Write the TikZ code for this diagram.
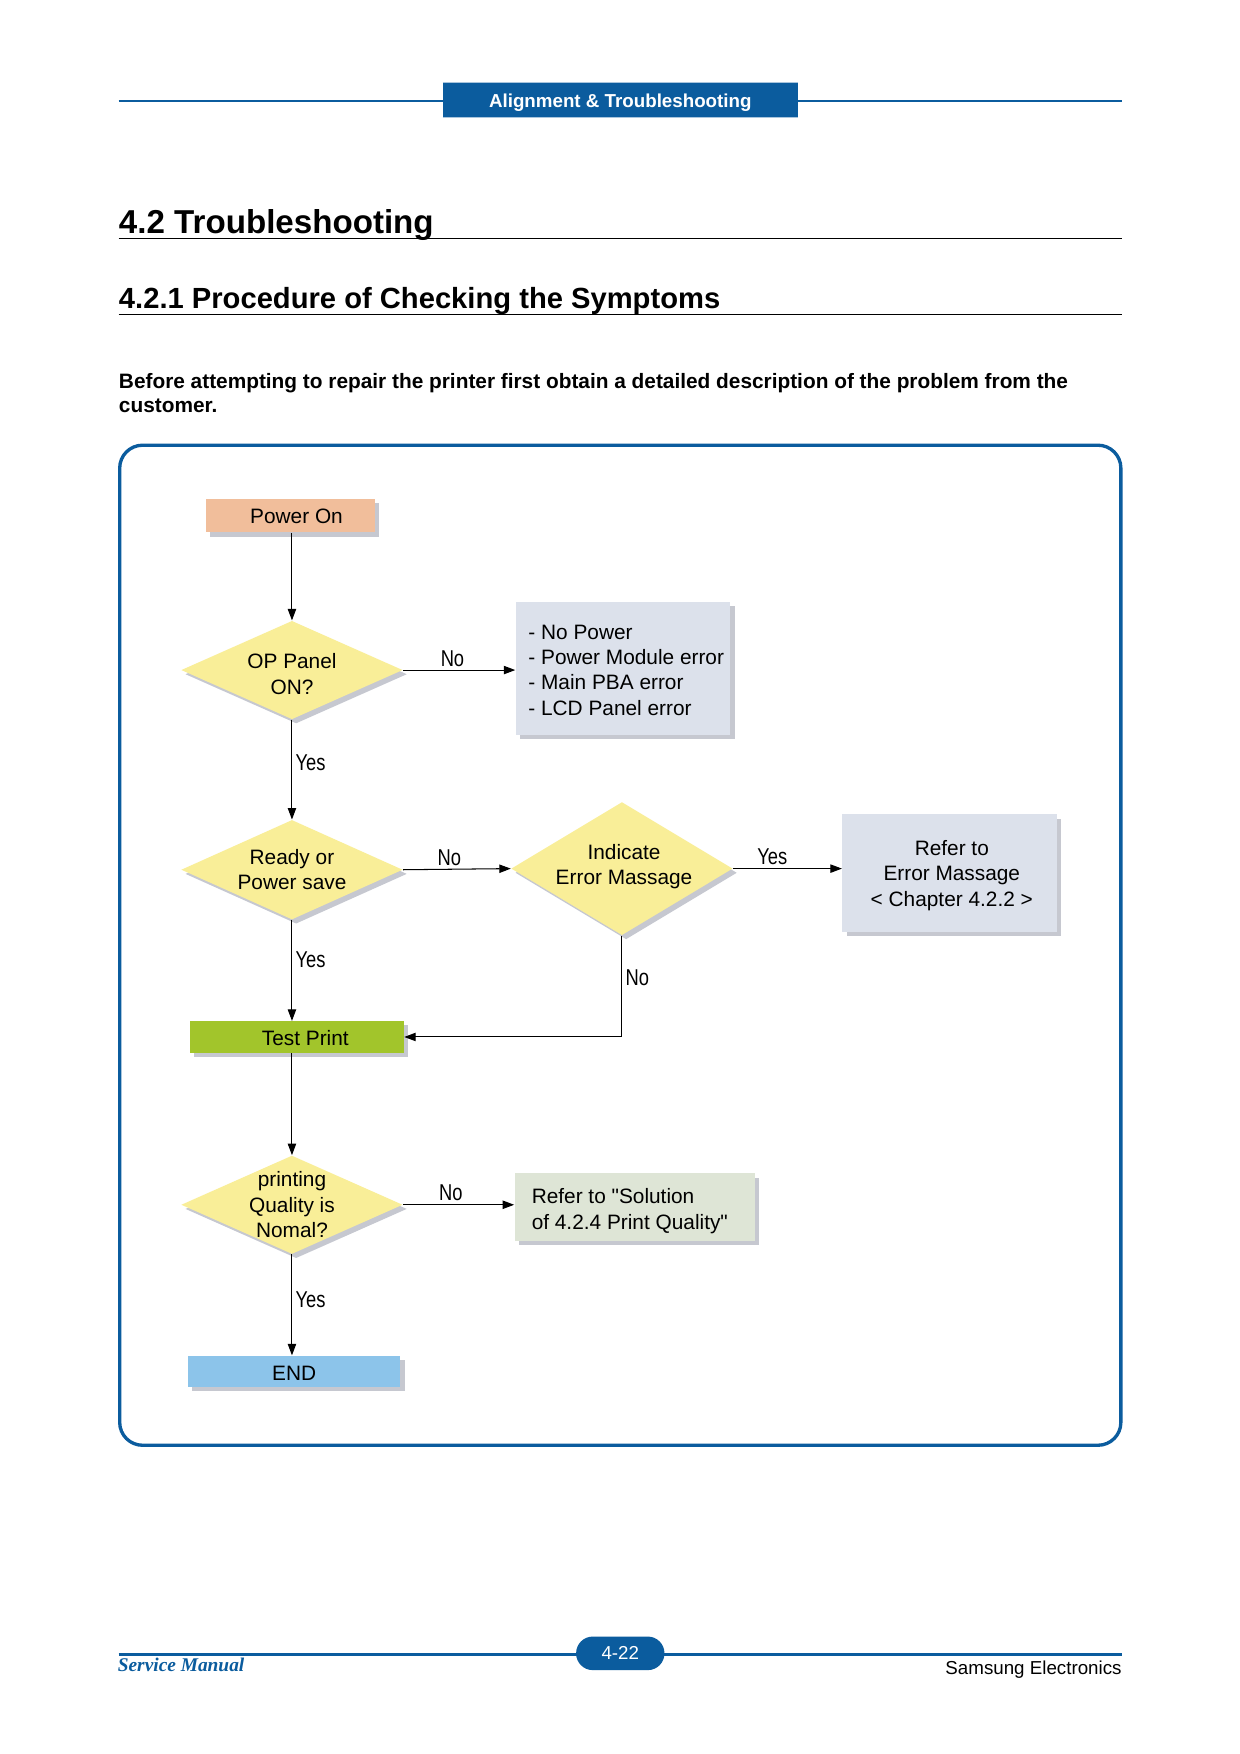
\documentclass[tikz,border=0pt]{standalone}
\usepackage{fontspec}
\setmainfont{Liberation Sans}[Ligatures=TeXOff]
\newfontfamily\narrowfont{Liberation Sans}[FakeStretch=0.8]
\newfontfamily\serifbi{Liberation Serif}
\usetikzlibrary{arrows.meta,shapes.geometric,shadows}
\definecolor{hdrblue}{HTML}{0B5C9E}
\definecolor{hdredge}{HTML}{A9C5DD}
\definecolor{salmon}{HTML}{F1BE9B}
\definecolor{yel}{HTML}{F9EE98}
\definecolor{bluegray}{HTML}{DCE1EB}
\definecolor{greenbox}{HTML}{A2C52B}
\definecolor{endblue}{HTML}{8CC4EA}
\definecolor{greengray}{HTML}{DEE5D6}
\definecolor{shadowgray}{HTML}{C6C8D0}
\begin{document}
\begin{tikzpicture}[x=0.537pt,y=-0.537pt,
  shd/.style={drop shadow={shadow xshift=2pt,shadow yshift=-2pt,fill=shadowgray,opacity=1}},
  boxnode/.style={rectangle,draw=none,inner sep=0pt,shd},
  dia/.style={diamond,draw=none,fill=yel,inner sep=0pt,shd},
  txt/.style={align=center,inner sep=0pt,font=\fontsize{10pt}{12.2pt}\selectfont},
  lbl/.style={inner sep=1.5pt,font=\narrowfont\fontsize{11pt}{13pt}\selectfont},
  arr/.style={-{Triangle[length=5.5pt,width=4pt]},line width=0.5pt,black},
]
\useasboundingbox (0,0) rectangle (1108,1568);
\fill[white] (0,0) rectangle (1108,1568);

% header
\draw[hdrblue,line width=1.1pt] (106,90) -- (396,90);
\draw[hdrblue,line width=1.1pt] (713,90) -- (1003,90);
\node[fill=hdrblue,inner sep=0pt,minimum width=317*0.537pt,minimum height=31*0.537pt] (hdr) at (554.5,89.5) {};
\draw[hdredge,line width=0.6pt] (hdr.north west) -- (hdr.north east);
\draw[hdredge,line width=0.4pt] (hdr.south west) -- (hdr.south east);
\node[text=white,font=\fontsize{9pt}{11pt}\selectfont\bfseries,inner sep=0pt] (hdrt) at ([yshift=-1.2pt]hdr.center) {Alignment \& Troubleshooting};

% titles
\node[anchor=base west,inner sep=0pt,font=\fontsize{15.9pt}{19pt}\selectfont\bfseries] (t1) at (106,209) {4.2 Troubleshooting};
\draw[black,line width=0.5pt] (106,213) -- (1003,213);
\node[anchor=base west,inner sep=0pt,font=\fontsize{14pt}{17pt}\selectfont\bfseries] (t2) at (106,276) {4.2.1 Procedure of Checking the Symptoms};
\draw[black,line width=0.5pt] (106,281) -- (1003,281);
\node[anchor=base west,inner sep=0pt,font=\fontsize{10pt}{12pt}\selectfont\bfseries] (p1) at (106,347) {Before attempting to repair the printer first obtain a detailed description of the problem from the};
\node[anchor=base west,inner sep=0pt,font=\fontsize{10pt}{12pt}\selectfont\bfseries] (p2) at (106,369) {customer.};

% frame
\draw[hdrblue,line width=1.6pt,rounded corners=11pt] (107,398) rectangle (1002,1292);

% flowchart nodes
\node[boxnode,fill=salmon,minimum width=151*0.537pt,minimum height=30*0.537pt] (pon) at (259.5,461) {};
\node[txt] (pont) at ([xshift=3pt,yshift=-0.5pt]pon.center) {Power On};

\node[dia,minimum width=198*0.537pt,minimum height=88*0.537pt] (d1) at (261,599) {};
\node[txt] (d1t) at ([yshift=-2pt]d1.center) {OP Panel\\ON?};

\node[boxnode,fill=bluegray,minimum width=192*0.537pt,minimum height=119*0.537pt] (b1) at (557,597.5) {};
\node[txt,align=left,anchor=west] (b1t) at (472,599) {- No Power\\- Power Module error\\- Main PBA error\\- LCD Panel error};

\node[dia,minimum width=198*0.537pt,minimum height=89*0.537pt] (d2) at (261,777.5) {};
\node[txt] (d2t) at (d2.center) {Ready or\\Power save};

\node[dia,minimum width=198*0.537pt,minimum height=119*0.537pt] (d3) at (556,776.5) {};
\node[txt] (d3t) at ([xshift=1pt,yshift=1pt]d3.center) {Indicate\\Error Massage};

\node[boxnode,fill=bluegray,minimum width=192*0.537pt,minimum height=105*0.537pt] (b2) at (849,780.5) {};
\node[txt] (b2t) at ([xshift=1pt,yshift=-1.2pt]b2.center) {Refer to\\Error Massage\\< Chapter 4.2.2 >};

\node[boxnode,fill=greenbox,minimum width=191*0.537pt,minimum height=28*0.537pt] (tp) at (265.5,927) {};
\node[txt] (tpt) at ([xshift=4pt,yshift=-0.5pt]tp.center) {Test Print};

\node[dia,minimum width=198*0.537pt,minimum height=88*0.537pt] (d4) at (261,1077) {};
\node[txt] (d4t) at (d4.center) {printing\\Quality is\\Nomal?};

\node[boxnode,fill=greengray,minimum width=215*0.537pt,minimum height=60*0.537pt] (b3) at (567.5,1079) {};
\node[txt,align=left,anchor=west] (b3t) at (475,1082.5) {Refer to "Solution\\of 4.2.4 Print Quality"};

\node[boxnode,fill=endblue,minimum width=190*0.537pt,minimum height=28*0.537pt] (endn) at (263,1226) {};
\node[txt] (endt) at ([yshift=-1pt]endn.center) {END};

% connectors
\draw[arr] (pon.south -| d1.north) -- (d1.north);
\draw[arr] (d1.east) -- node[lbl,above,pos=0.44] (l1) {No} (d1.east -| b1.west);
\draw[arr] (d1.south) -- node[lbl,right,pos=0.43] (l2) {Yes} (d2.north);
\draw[arr] (d2.east) -- node[lbl,above,pos=0.43] (l3) {No} (d3.west);
\draw[arr] (d3.east) -- node[lbl,above,pos=0.36] (l4) {Yes} (d3.east -| b2.west);
\draw[arr] (d3.south) |- node[lbl,right,pos=0.21] (l5) {No} (tp.east);
\draw[arr] (d2.south) -- node[lbl,right,pos=0.39] (l6) {Yes} (d2.south |- tp.north);
\draw[arr] (tp.south -| d4.north) -- (d4.north);
\draw[arr] (d4.east) -- node[lbl,above,pos=0.43] (l7) {No} (d4.east -| b3.west);
\draw[arr] (d4.south) -- node[lbl,right,pos=0.45] (l8) {Yes} (d4.south |- endn.north);

% footer
\draw[hdrblue,line width=1.1pt] (106,1479) -- (1003,1479);
\node[fill=hdrblue,rounded corners=8pt,inner sep=0pt,minimum width=79*0.537pt,minimum height=30*0.537pt] (pg) at (554.5,1478) {};
\node[text=white,inner sep=0pt,font=\fontsize{9pt}{11pt}\selectfont] (pgt) at (pg.center) {4-22};
\node[anchor=base west,inner sep=0pt,text=hdrblue,font=\serifbi\fontsize{9.3pt}{11pt}\selectfont\bfseries\itshape] (sm) at (105,1494) {Service Manual};
\node[anchor=base east,inner sep=0pt,font=\fontsize{9pt}{11pt}\selectfont] (se) at (1003,1497) {Samsung Electronics};
\end{tikzpicture}
\end{document}
